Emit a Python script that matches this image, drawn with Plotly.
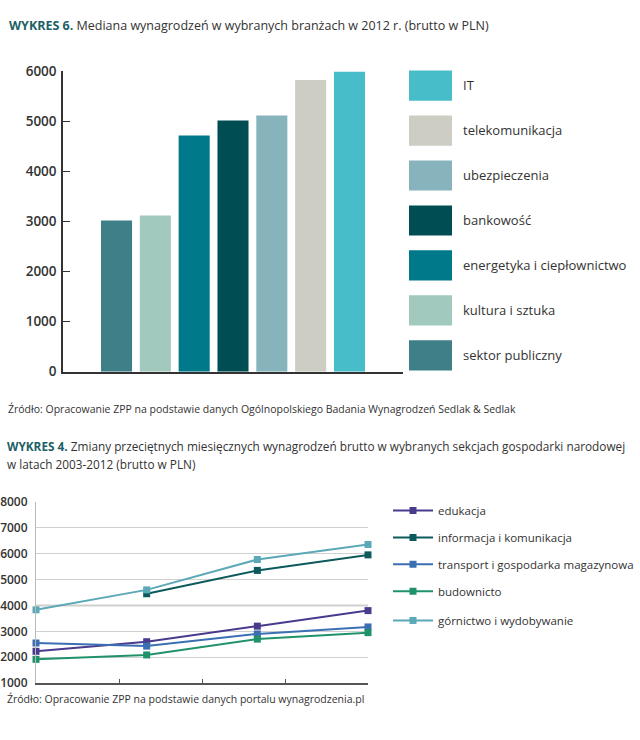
import plotly.graph_objects as go

# ---------------- data: top chart (WYKRES 6) ----------------
bar_categories = ["sektor publiczny", "kultura i sztuka", "energetyka i ciepłownictwo",
                  "bankowość", "ubezpieczenia", "telekomunikacja", "IT"]
bar_values = [3020, 3120, 4720, 5020, 5120, 5830, 6000]
bar_colors = ["#3f7f88", "#a2c9be", "#00798b", "#004e53", "#87b3bc", "#cdcdc4", "#46bdc9"]
bar_yticks = [0, 1000, 2000, 3000, 4000, 5000, 6000]

# ---------------- data: bottom chart (WYKRES 4) ----------------
years = [2003, 2006, 2009, 2012]
edukacja = [2230, 2600, 3200, 3800]
informacja = [None, 4450, 5350, 5950]
transport = [2550, 2430, 2900, 3170]
budownictwo = [1920, 2090, 2700, 2950]
gornictwo = [3830, 4600, 5770, 6350]
line_names = ["edukacja", "informacja i komunikacja", "transport i gospodarka magazynowa",
              "budownicto", "górnictwo i wydobywanie"]
line_series = [edukacja, informacja, transport, budownictwo, gornictwo]
line_colors = ["#4a3a8d", "#0c5a5c", "#3b6fb4", "#20926a", "#5ba8b6"]

FONT = "Open Sans"
TXT = "#333333"
TITLE_C = "#1d5f66"
W, H = 640, 740


def px(x):
    return x / W


def py(y):
    return 1 - y / H


fig = go.Figure()

# top bars
fig.add_trace(go.Bar(
    x=bar_categories, y=bar_values, marker=dict(color=bar_colors, line=dict(width=0)),
    width=0.8, showlegend=False, xaxis="x", yaxis="y", hoverinfo="x+y"))

# top legend built as a horizontal bar panel
fig.add_trace(go.Bar(
    x=[1] * len(bar_categories), y=bar_categories, orientation="h",
    marker=dict(color=bar_colors, line=dict(width=0)), width=0.67,
    showlegend=False, xaxis="x3", yaxis="y3", hoverinfo="y"))

# bottom lines
legend_ids = ["legend", "legend2", "legend3", "legend4", "legend5"]
for name, vals, col, lid in zip(line_names, line_series, line_colors, legend_ids):
    fig.add_trace(go.Scatter(
        x=years, y=vals, name=name, mode="lines+markers",
        line=dict(color=col, width=2),
        marker=dict(symbol="square", size=7, color=col),
        cliponaxis=False, connectgaps=False,
        xaxis="x2", yaxis="y2", legend=lid))

layout = dict(
    width=W, height=H,
    margin=dict(l=0, r=0, t=0, b=0),
    paper_bgcolor="white", plot_bgcolor="white",
    font=dict(family=FONT, color=TXT),
    # top chart axes
    xaxis=dict(domain=[px(63), px(403)], type="category", range=[-1.378, 7.378],
               showline=True, linecolor="#333333", linewidth=1.5,
               showticklabels=False, ticks="", showgrid=False, zeroline=False,
               anchor="y", fixedrange=True),
    yaxis=dict(domain=[py(371.7), py(64)], range=[0, 6000], tickvals=bar_yticks,
               showline=True, linecolor="#333333", linewidth=1.5,
               ticks="inside", ticklen=7, tickcolor="#333333", tickwidth=1.2,
               tickfont=dict(size=13.5, color=TXT, family=FONT, weight=600),
               ticklabelstandoff=2,
               showgrid=False, zeroline=False, anchor="x", fixedrange=True),
    # legend panel axes
    xaxis3=dict(domain=[px(409), px(452)], range=[0, 1], visible=False,
                anchor="y3", fixedrange=True),
    yaxis3=dict(domain=[py(378.0), py(55.5)], type="category", range=[-0.5, 6.5],
                side="right", showline=False, ticks="", showgrid=False, zeroline=False,
                tickfont=dict(size=13, color=TXT, family=FONT), ticklabelstandoff=10,
                anchor="x3", fixedrange=True),
    # bottom chart axes
    xaxis2=dict(domain=[px(36), px(368)], range=[2003, 2012], tick0=2003, dtick=2.25,
                tickmode="linear", ticks="inside", ticklen=4, tickcolor="#555555",
                tickwidth=1.2, showticklabels=False, showline=True, linecolor="#555555",
                linewidth=2, showgrid=False, zeroline=False, anchor="y2", fixedrange=True),
    yaxis2=dict(domain=[py(691), py(505)], range=[1000, 8000], dtick=1000, tick0=1000,
                showgrid=True, gridcolor="#d0d0d0", gridwidth=1,
                showline=True, linecolor="#bbbbbb", linewidth=1, ticks="",
                tickfont=dict(size=12, color=TXT, family=FONT, weight=600),
                ticklabelstandoff=5,
                zeroline=False, anchor="x2", fixedrange=True),
    shapes=[dict(type="line", xref="x2 domain", yref="y2", x0=0, x1=1, y0=4000, y1=4000,
                 line=dict(color="#9a9a9a", width=1.5), layer="below")],
    annotations=[
        dict(x=px(7), y=py(17), xref="paper", yref="paper", xanchor="left", yanchor="middle",
             showarrow=False,
             text=f"<span style='color:{TITLE_C}'><b>WYKRES 6.</b></span> Mediana wynagrodzeń w wybranych branżach w 2012 r. (brutto w PLN)",
             font=dict(size=12.5, color=TXT, family=FONT)),
        dict(x=px(6), y=py(410), xref="paper", yref="paper", xanchor="left", yanchor="middle",
             showarrow=False,
             text="Źródło: Opracowanie ZPP na podstawie danych Ogólnopolskiego Badania Wynagrodzeń Sedlak & Sedlak",
             font=dict(size=10.5, color=TXT, family=FONT)),
        dict(x=px(5), y=py(448), xref="paper", yref="paper", xanchor="left", yanchor="middle",
             showarrow=False,
             text=f"<span style='color:{TITLE_C}'><b>WYKRES 4.</b></span> Zmiany przeciętnych miesięcznych wynagrodzeń brutto w wybranych sekcjach gospodarki narodowej",
             font=dict(size=11.8, color=TXT, family=FONT)),
        dict(x=px(5), y=py(466), xref="paper", yref="paper", xanchor="left", yanchor="middle",
             showarrow=False, text="w latach 2003-2012 (brutto w PLN)",
             font=dict(size=11.8, color=TXT, family=FONT)),
        dict(x=px(5), y=py(707), xref="paper", yref="paper", xanchor="left", yanchor="middle",
             showarrow=False,
             text="Źródło: Opracowanie ZPP na podstawie danych portalu wynagrodzenia.pl",
             font=dict(size=10.5, color=TXT, family=FONT)),
    ],
)

legend_y = [514, 541.7, 569, 596.7, 626.7]
for lid, yy in zip(legend_ids, legend_y):
    layout[lid] = dict(x=px(388), y=py(yy), xanchor="left", yanchor="middle",
                       bgcolor="rgba(0,0,0,0)", borderwidth=0, itemwidth=40,
                       font=dict(size=11.5, color=TXT, family=FONT))

fig.update_layout(**layout)
fig.write_html("out.html",
               config={"displayModeBar": False},
               post_script="document.body.style.margin='0';document.body.style.padding='0';")
